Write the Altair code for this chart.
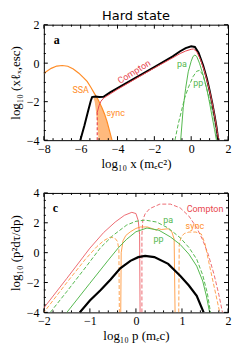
import altair as alt
import pandas as pd

RED = "#e8474f"
ORANGE = "#ff8c26"
GREEN = "#55b84f"
BLACK = "#000000"
SERIF = "Liberation Serif"
SANS = "Roboto"

# ---------------- panel a ----------------
a_tot_x = [-6.02, -5.8, -5.6, -5.45, -5.38, -5.2, -5.0, -4.76, -4.4, -4.0, -3.0, -2.0, -1.0, -0.6, -0.3, 0.0, 0.2, 0.4, 0.65, 0.85, 1.0, 1.15, 1.28, 1.38, 1.47]
a_tot_y = [-4.0, -3.25, -2.5, -1.95, -1.76, -1.73, -1.76, -1.75, -1.52, -1.3, -0.75, -0.2, 0.35, 0.62, 0.78, 0.88, 0.84, 0.55, -0.12, -0.8, -1.42, -2.1, -2.78, -3.35, -4.0]

a_cmp_x = [-5.1, -5.0, -4.9, -4.76, -4.6, -4.0, -3.0, -2.0, -1.0, -0.6, -0.3, 0.0, 0.12, 0.3, 0.5, 0.7, 0.9, 1.05, 1.2, 1.32, 1.42, 1.5]
a_cmp_y = [-2.55, -2.2, -1.98, -1.82, -1.72, -1.36, -0.8, -0.25, 0.28, 0.5, 0.63, 0.72, 0.74, 0.6, 0.2, -0.35, -1.05, -1.65, -2.35, -3.0, -3.6, -4.0]
a_cmpd_x = [-5.1, -5.1]
a_cmpd_y = [-4.0, -2.55]

a_ssa_x = [-8.0, -7.6, -7.3, -7.0, -6.7, -6.4, -6.1, -5.85, -5.65, -5.45, -5.25, -5.05, -4.85, -4.7, -4.57, -4.45, -4.3]
a_ssa_y = [-0.52, -0.27, -0.15, -0.12, -0.16, -0.3, -0.52, -0.75, -0.95, -1.25, -1.58, -1.9, -2.3, -2.65, -3.03, -3.45, -4.0]

a_sync_y = [-1.72, -2.0, -2.5, -3.0, -3.5, -4.0]
a_sync_xl = [-5.33, -5.24, -5.17, -5.11, -5.07, -5.03]
a_sync_xr = [-5.17, -5.0, -4.76, -4.58, -4.44, -4.3]

a_pa_x = [-0.57, -0.43, -0.3, -0.16, 0.0, 0.1, 0.2, 0.3, 0.45, 0.65, 0.85, 1.01, 1.15, 1.27, 1.37]
a_pa_y = [-4.0, -2.3, -1.3, -0.45, 0.1, 0.35, 0.42, 0.35, 0.0, -0.62, -1.35, -2.12, -2.85, -3.45, -4.0]
a_pp_x = [-0.88, -0.7, -0.52, -0.35, -0.16, 0.1, 0.3, 0.47, 0.65, 0.83, 1.0, 1.19, 1.32, 1.42]
a_pp_y = [-4.0, -3.15, -2.45, -1.8, -1.28, -0.7, -0.42, -0.37, -0.65, -1.28, -1.9, -2.62, -3.3, -4.0]

a_lab_text = ["Compton", "SSA", "sync", "pa", "pp"]
a_lab_x = [-3.1, -6.0, -4.1, -0.5, 0.38]
a_lab_y = [-0.45, -1.37, -2.6, -0.03, -1.03]
a_lab_col = [RED, ORANGE, ORANGE, GREEN, GREEN]
a_lab_ang = [328, 0, 0, 0, 0]

a_xdom = [-8, 2]
a_ydom = [-4, 2]
a_xmaj = [-8, -6, -4, -2, 0, 2]
a_xmin = [-7.5, -7, -6.5, -5.5, -5, -4.5, -3.5, -3, -2.5, -1.5, -1, -0.5, 0.5, 1, 1.5]
a_ymaj = [-4, -2, 0, 2]
a_ymin = [-3.5, -3, -2.5, -1.5, -1, -0.5, 0.5, 1, 1.5]

# ---------------- panel c ----------------
c_cmp_x = [-2.1, -1.5, -1.0, -0.7, -0.45, -0.25, -0.09, 0.0, 0.05, 0.08, 0.09]
c_cmp_y = [-4.1, -1.72, 0.3, 1.35, 2.05, 2.5, 2.7, 2.62, 2.15, 1.2, -4.0]
c_cmpd_x = [0.13, 0.13, 0.15, 0.2, 0.3, 0.52, 0.75, 0.96, 1.15, 1.32, 1.45, 1.57, 1.7, 1.8, 1.88]
c_cmpd_y = [-4.0, 1.2, 2.2, 2.6, 2.95, 3.25, 3.25, 3.0, 2.45, 1.67, 0.85, -0.11, -1.5, -2.8, -4.0]

c_pa_x = [-1.86, -1.5, -1.06, -0.77, -0.5, -0.2, 0.0, 0.2, 0.45, 0.7, 0.96, 1.15, 1.32, 1.45, 1.55, 1.62]
c_pa_y = [-4.0, -2.6, -0.85, 0.33, 1.15, 1.85, 2.1, 2.18, 2.05, 1.65, 1.0, 0.35, -0.44, -1.5, -2.7, -4.0]
c_pp_x = [-1.5, -1.0, -0.6, -0.38, -0.2, 0.0, 0.24, 0.5, 0.75, 0.96, 1.15, 1.32, 1.45, 1.53, 1.6]
c_pp_y = [-4.0, -2.05, -0.5, 0.33, 0.9, 1.4, 1.65, 1.5, 1.05, 0.55, -0.1, -0.9, -1.9, -2.9, -4.0]

c_sync_x = [-0.33, -0.32, -0.28, -0.22, -0.12, 0.0, 0.1, 0.25, 0.38, 0.45, 0.48, 0.55, 0.7, 0.78, 0.83, 0.85]
c_sync_y = [-4.0, 0.0, 0.8, 1.15, 1.4, 1.62, 1.72, 1.72, 1.58, 1.5, 1.62, 1.55, 1.6, 1.4, 0.9, -4.0]
c_syncdl_x = [-2.1, -1.5, -1.1, -0.85, -0.7, -0.56, -0.46, -0.4, -0.37, -0.36]
c_syncdl_y = [-4.4, -2.0, -0.45, 0.4, 0.8, 1.04, 0.98, 0.75, 0.2, -4.0]
c_syncdr_x = [0.93, 0.94, 0.98, 1.05, 1.15, 1.3, 1.42, 1.5, 1.58, 1.7, 1.82]
c_syncdr_y = [-4.0, 0.5, 1.05, 1.28, 1.38, 1.38, 1.25, 0.6, -0.6, -2.3, -4.0]

c_tot_x = [-1.22, -1.0, -0.77, -0.55, -0.34, -0.12, 0.05, 0.2, 0.4, 0.7, 0.96, 1.15, 1.32, 1.47]
c_tot_y = [-4.0, -3.2, -2.52, -1.8, -1.05, -0.55, -0.3, -0.22, -0.3, -0.75, -1.55, -2.2, -2.89, -4.0]

c_lab_text = ["Compton", "pa", "sync", "pp"]
c_lab_x = [1.5, 0.7, 1.28, 0.49]
c_lab_y = [2.9, 2.18, 1.78, 0.89]
c_lab_col = [RED, GREEN, ORANGE, GREEN]

c_xdom = [-2, 2]
c_ydom = [-4, 4]
c_xmaj = [-2, -1, 0, 1, 2]
c_xmin = [-1.8, -1.6, -1.4, -1.2, -0.8, -0.6, -0.4, -0.2, 0.2, 0.4, 0.6, 0.8, 1.2, 1.4, 1.6, 1.8]
c_ymaj = [-4, -2, 0, 2, 4]
c_ymin = [-3.5, -3, -2.5, -1.5, -1, -0.5, 0.5, 1, 1.5, 2.5, 3, 3.5]

W = 185
HA = 116
HC = 120


def make_axes(xmaj, ymaj, xtitle, ytitle):
    ax = alt.Axis(values=xmaj, ticks=False, domain=False, grid=False, labelFlush=False,
                  labelOverlap=False, labelPadding=3, title=xtitle, titlePadding=3)
    ay = alt.Axis(values=ymaj, ticks=False, domain=False, grid=False, labelFlush=False,
                  labelOverlap=False, labelPadding=5, title=ytitle, titlePadding=4)
    return ax, ay


class Panel:
    def __init__(self, xdom, ydom, xmaj, ymaj, xtitle, ytitle):
        self.xs = alt.Scale(domain=xdom, nice=False, zero=False)
        self.ys = alt.Scale(domain=ydom, nice=False, zero=False)
        self.ax, self.ay = make_axes(xmaj, ymaj, xtitle, ytitle)
        self.xdom, self.ydom = xdom, ydom

    def X(self, f):
        return alt.X(f, scale=self.xs, axis=self.ax)

    def Y(self, f):
        return alt.Y(f, scale=self.ys, axis=self.ay)

    def base(self):
        df = pd.DataFrame({"x": self.xdom, "y": self.ydom})
        return alt.Chart(df).mark_point(opacity=0, size=0).encode(x=self.X("x:Q"), y=self.Y("y:Q"))

    def line(self, xs, ys, color, width=1.0, dash=None, opacity=1.0):
        df = pd.DataFrame({"x": xs, "y": ys, "i": list(range(len(xs)))})
        kw = dict(color=color, strokeWidth=width, clip=True, opacity=opacity)
        if dash:
            kw["strokeDash"] = dash
        return alt.Chart(df).mark_line(**kw).encode(
            x=self.X("x:Q"), y=self.Y("y:Q"), order=alt.Order("i:Q"))

    def texts(self, labels, xs, ys, cols, angles=None, size=9, font=SANS, weight="normal"):
        out = []
        for k, t in enumerate(labels):
            df = pd.DataFrame({"x": [xs[k]], "y": [ys[k]], "t": [t]})
            ang = angles[k] if angles else 0
            out.append(alt.Chart(df).mark_text(color=cols[k], font=font, fontSize=size, angle=ang,
                                               fontWeight=weight).encode(
                x=self.X("x:Q"), y=self.Y("y:Q"), text="t:N"))
        return out

    def ticks(self, xmaj, xmin, ymaj, ymin, w, h):
        out = []
        for vals, size in [(xmaj, 4), (xmin, 2)]:
            df = pd.DataFrame({"x": vals})
            out.append(alt.Chart(df).mark_rule(color="black", strokeWidth=1).encode(
                x=self.X("x:Q"), y=alt.value(h), y2=alt.value(h - size)))
            out.append(alt.Chart(df).mark_rule(color="black", strokeWidth=1).encode(
                x=self.X("x:Q"), y=alt.value(0), y2=alt.value(size)))
        for vals, size in [(ymaj, 4), (ymin, 2)]:
            df = pd.DataFrame({"y": vals})
            out.append(alt.Chart(df).mark_rule(color="black", strokeWidth=1).encode(
                y=self.Y("y:Q"), x=alt.value(0), x2=alt.value(size)))
            out.append(alt.Chart(df).mark_rule(color="black", strokeWidth=1).encode(
                y=self.Y("y:Q"), x=alt.value(w), x2=alt.value(w - size)))
        return out


# ---- build panel a ----
pa = Panel(a_xdom, a_ydom, a_xmaj, a_ymaj, "log₁₀ x (mₑc²)", "log₁₀ (xℓₓ,esc)")

sync_df = pd.DataFrame({"y": a_sync_y, "x": a_sync_xl, "xr": a_sync_xr})
a_sync = alt.Chart(sync_df).mark_area(orient="horizontal", color=ORANGE, opacity=0.6, clip=True).encode(
    y=pa.Y("y:Q"), x=pa.X("x:Q"), x2="xr:Q")

panel_a = alt.layer(
    pa.base(),
    a_sync,
    pa.line(a_ssa_x, a_ssa_y, ORANGE, 1.2),
    pa.line(a_pp_x, a_pp_y, GREEN, 1.0, [4, 2]),
    pa.line(a_pa_x, a_pa_y, GREEN, 1.0),
    pa.line(a_cmpd_x, a_cmpd_y, RED, 1.2, [3, 2]),
    pa.line(a_tot_x, a_tot_y, BLACK, 2.0),
    pa.line(a_cmp_x, a_cmp_y, RED, 1.0),
    *pa.texts(a_lab_text, a_lab_x, a_lab_y, a_lab_col, a_lab_ang),
    *pa.texts(["a"], [-7.3], [1.2], [BLACK], size=12, font=SERIF, weight="bold"),
    *pa.ticks(a_xmaj, a_xmin, a_ymaj, a_ymin, W, HA),
).properties(
    width=W, height=HA,
    title=alt.Title("Hard state", font="DejaVu Sans", fontSize=13, fontWeight="normal", offset=-4,
                    color="black", frame="group"))

# ---- build panel c ----
pc = Panel(c_xdom, c_ydom, c_xmaj, c_ymaj, "log₁₀ p (mₑc)", "log₁₀ (p²dτ/dp)")

panel_c = alt.layer(
    pc.base(),
    pc.line(c_cmp_x, c_cmp_y, RED, 1.0, None, 0.8),
    pc.line(c_cmpd_x, c_cmpd_y, RED, 1.0, [4, 2], 0.8),
    pc.line(c_syncdl_x, c_syncdl_y, ORANGE, 1.0, [4, 2], 0.8),
    pc.line(c_syncdr_x, c_syncdr_y, ORANGE, 1.0, [4, 2], 0.8),
    pc.line(c_sync_x, c_sync_y, ORANGE, 1.0, None, 0.8),
    pc.line(c_pa_x, c_pa_y, GREEN, 1.0, [4, 2]),
    pc.line(c_pp_x, c_pp_y, GREEN, 1.0),
    pc.line(c_tot_x, c_tot_y, BLACK, 2.2),
    *pc.texts(c_lab_text, c_lab_x, c_lab_y, c_lab_col),
    *pc.texts(["c"], [-1.75], [3.0], [BLACK], size=12, font=SERIF, weight="bold"),
    *pc.ticks(c_xmaj, c_xmin, c_ymaj, c_ymin, W, HC),
).properties(width=W, height=HC)

chart = alt.vconcat(panel_a, panel_c, spacing=15).properties(padding=0, background="white").configure_view(
    stroke="black", strokeWidth=1).configure_axis(
    labelFont=SERIF, labelFontSize=12, labelColor="black", titleFont=SERIF, titleFontSize=13,
    titleFontWeight="normal", titleColor="black")

chart.save("out.html", embed_options={"renderer": "svg", "actions": False})
